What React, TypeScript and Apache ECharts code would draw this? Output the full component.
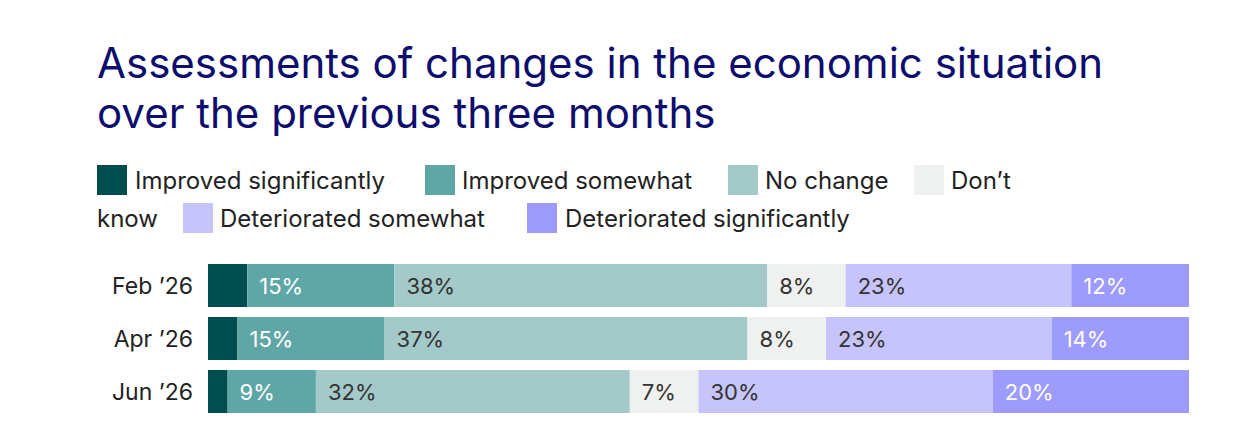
import { useEffect, useRef } from 'react';
import * as echarts from 'echarts';

const categories = ['Feb ’26', 'Apr ’26', 'Jun ’26'];
const seriesNames = [
  'Improved significantly',
  'Improved somewhat',
  'No change',
  'Don’t know',
  'Deteriorated somewhat',
  'Deteriorated significantly',
];
const improvedSig = [4, 3, 2];
const improvedSome = [15, 15, 9];
const noChange = [38, 37, 32];
const dontKnow = [8, 8, 7];
const deterSome = [23, 23, 30];
const deterSig = [12, 14, 20];
const colors = ['#004d4f', '#5fa7a7', '#a3c9c9', '#eff1f0', '#c6c4fb', '#9d9bfb'];
const labelColors = ['#ffffff', '#ffffff', '#333333', '#333333', '#333333', '#ffffff'];

const FONT = 'Inter, "Noto Sans", sans-serif';

const App = () => {
  const chartRef = useRef<HTMLDivElement | null>(null);

  useEffect(() => {
    const chart = echarts.init(chartRef.current!, null, { renderer: 'svg' });
    const values = [improvedSig, improvedSome, noChange, dontKnow, deterSome, deterSig];

    // legend drawn by hand so it can wrap like the original
    const legendItems = [
      { box: 89, text: 127, y: 172, i: 0, label: seriesNames[0] },
      { box: 417, text: 454, y: 172, i: 1, label: seriesNames[1] },
      { box: 720, text: 757, y: 172, i: 2, label: seriesNames[2] },
      { box: 906, text: 943, y: 172, i: 3, label: 'Don’t' },
      { box: 175, text: 212, y: 210, i: 4, label: seriesNames[4] },
      { box: 519, text: 557, y: 210, i: 5, label: seriesNames[5] },
    ];
    const graphic: any[] = [];
    legendItems.forEach((d) => {
      graphic.push({
        type: 'rect',
        shape: { x: d.box, y: d.y - 15, width: 30, height: 30 },
        style: { fill: colors[d.i] },
      });
      graphic.push({
        type: 'text',
        x: d.text,
        y: d.y,
        style: { text: d.label, font: `24px ${FONT}`, fill: '#222', verticalAlign: 'middle' },
      });
    });
    graphic.push({
      type: 'text',
      x: 89,
      y: 210,
      style: { text: 'know', font: `24px ${FONT}`, fill: '#222', verticalAlign: 'middle' },
    });

    chart.setOption({
      animation: false,
      title: {
        text: 'Assessments of changes in the economic situation\nover the previous three months',
        left: 84,
        top: 24,
        textStyle: { color: '#0d0d6e', fontSize: 42, fontWeight: 'normal', fontFamily: FONT, lineHeight: 50 },
      },
      graphic,
      grid: { left: 200, right: 57, top: 251, bottom: 14 },
      xAxis: { type: 'value', min: 0, max: 100, show: false },
      yAxis: {
        type: 'category',
        data: categories,
        inverse: true,
        axisLine: { show: false },
        axisTick: { show: false },
        axisLabel: { fontSize: 23, color: '#222', fontFamily: FONT, margin: 15 },
      },
      series: values.map((v, i) => ({
        name: seriesNames[i],
        type: 'bar',
        stack: 'total',
        data: v,
        barWidth: 43,
        itemStyle: { color: colors[i] },
        label: {
          show: i > 0,
          position: 'insideLeft',
          distance: 12,
          formatter: '{c}%',
          color: labelColors[i],
          fontSize: 22,
          fontFamily: FONT,
        },
      })),
    });

    return () => {
      chart.dispose();
    };
  }, []);

  return <div ref={chartRef} style={{ width: 1238, height: 424 }} />;
};

export default App;
